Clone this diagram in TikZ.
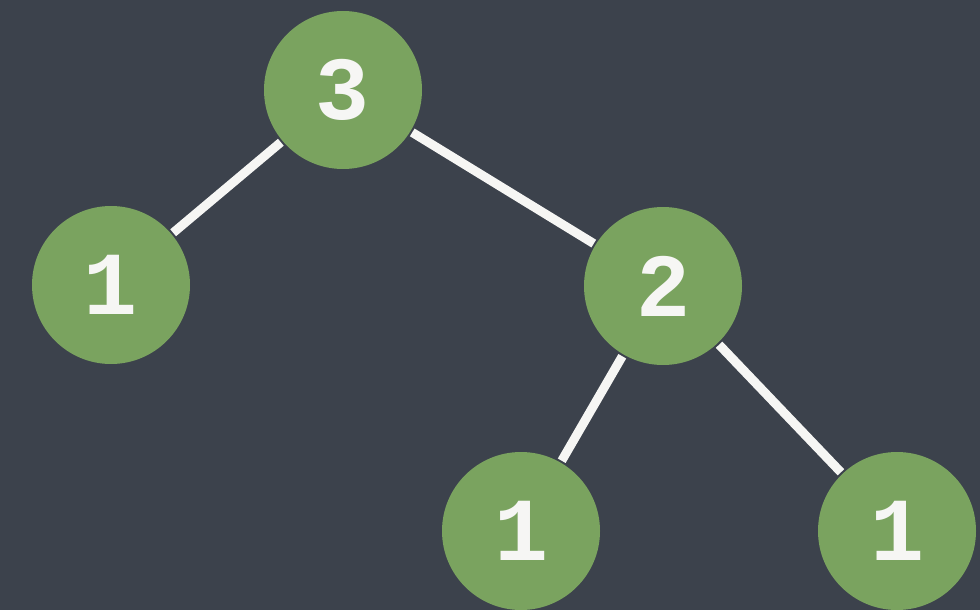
\documentclass[tikz,border=0pt]{standalone}
\usepackage{fontspec}
\newfontfamily\digitfont{Liberation Mono}
\definecolor{board}{RGB}{60,66,76}
\definecolor{leaf}{RGB}{122,163,95}
\definecolor{chalk}{RGB}{246,246,244}
\tikzset{
  treenode/.style={circle, fill=leaf, minimum size=158pt, inner sep=0pt,
    text=chalk, font=\digitfont\bfseries\fontsize{90}{90}\selectfont},
  chalkline/.style={draw=chalk, line width=9pt, shorten <=2pt, shorten >=2pt}
}
\begin{document}
\begin{tikzpicture}[x=1pt,y=-1pt]
\fill[board] (0,0) rectangle (980,610);
\useasboundingbox (0,0) rectangle (980,610);
\node[treenode] (n3) at (343,90) {3};
\node[treenode] (n1a) at (111,285) {1};
\node[treenode] (n2) at (663,286) {2};
\node[treenode] (n1b) at (521,531) {1};
\node[treenode] (n1c) at (897,531) {1};
\draw[chalkline] (n3) -- (n1a);
\draw[chalkline] (n3) -- (n2);
\draw[chalkline] (n2) -- (n1b);
\draw[chalkline] (n2) -- (n1c);
\end{tikzpicture}
\end{document}
